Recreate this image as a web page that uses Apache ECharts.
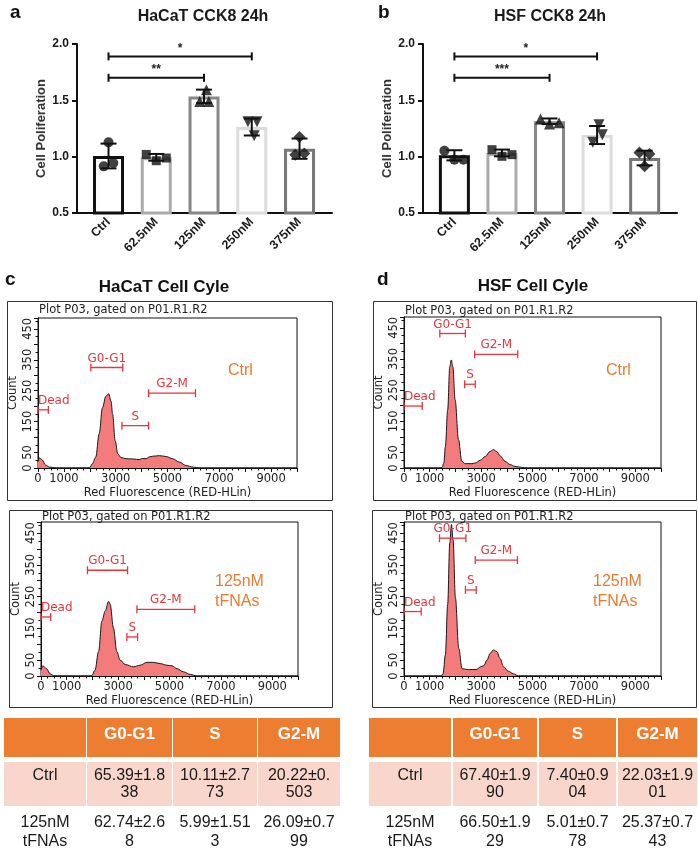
<!DOCTYPE html>
<html><head><meta charset="utf-8">
<script src="https://cdn.jsdelivr.net/npm/echarts@6/dist/echarts.min.js"></script>
<style>html,body{margin:0;padding:0;background:#fff}#c{width:698px;height:850px}</style>
</head><body><div id="c"></div>
<script>
// ---------------- DATA ----------------
const barCategories = ['Ctrl', '62.5nM', '125nM', '250nM', '375nM'];

const hacatMean = [1.006, 0.994, 1.535, 1.263, 1.071];
const hacatSD = [0.11, 0.03, 0.06, 0.075, 0.09];
const hacatReplicates = [[1.127, 0.914, 0.944], [0.964, 1.02, 0.988], [1.595, 1.49, 1.49], [1.186, 1.31, 1.31], [1.175, 1.018, 1.027]];
const hacatJitter = [[0, -0.1, 0.1], [0, -0.21, 0.21], [0.05, -0.09, 0.1], [0.05, -0.08, 0.11], [0, -0.09, 0.1]];
const hacatSigFrom = [0, 0];
const hacatSigTo = [2, 3];
const hacatSigY = [1.70, 1.89];
const hacatSigText = ['**', '*'];

const hsfMean = [1.012, 1.033, 1.314, 1.192, 0.988];
const hsfSD = [0.045, 0.03, 0.025, 0.08, 0.065];
const hsfReplicates = [[1.053, 0.973, 0.973], [1.062, 1.003, 1.018], [1.334, 1.29, 1.30], [1.284, 1.195, 1.127], [1.038, 1.024, 0.914]];
const hsfJitter = [[-0.21, 0, 0.19], [-0.21, 0, 0.21], [-0.19, 0, 0.2], [0.04, 0.11, -0.09], [-0.11, 0.1, 0]];
const hsfSigFrom = [0, 0];
const hsfSigTo = [2, 3];
const hsfSigY = [1.70, 1.89];
const hsfSigText = ['***', '*'];

const flowXTickLabels = [0, 1000, 3000, 5000, 7000, 9000];
const flowYTickLabels = [0, 50, 150, 250, 350, 450];
const gateNames = ['Dead', 'G0-G1', 'S', 'G2-M'];

const hacatCtrlHist = [[0,20],[60,33],[150,27],[300,9],[450,3],[700,0],[1900,0],[2000,2],[2100,14],[2230,35],[2360,110],[2490,195],[2620,232],[2730,240],[2820,216],[2880,174],[2980,88],[3080,46],[3200,34],[3400,30],[3700,29],[3910,27],[4040,31],[4170,30],[4300,36],[4430,38],[4690,40],[4950,37],[5200,30],[5460,19],[5720,8],[5980,3],[6240,0],[10000,0]];
const hacatTfnaHist = [[0,18],[65,32],[220,23],[350,7],[500,1],[700,0],[1900,0],[1980,2],[2100,18],[2240,77],[2370,173],[2500,205],[2630,235],[2690,226],[2820,151],[2950,77],[3080,50],[3280,36],[3600,29],[3860,34],[4120,43],[4380,43],[4640,39],[4900,34],[5100,32],[5290,23],[5550,13],[5810,5],[6070,0],[10000,0]];
const hsfCtrlHist = [[0,0],[1400,0],[1480,2],[1550,16],[1610,69],[1700,187],[1780,325],[1840,347],[1900,325],[1990,219],[2120,91],[2250,21],[2380,14],[2640,14],[2770,16],[2970,25],[3160,37],[3350,53],[3480,59],[3610,53],[3740,39],[3940,21],[4130,11],[4320,5],[4580,2],[4800,0],[10000,0]];
const hsfTfnaHist = [[0,0],[1450,0],[1520,7],[1610,66],[1700,226],[1780,418],[1845,477],[1910,429],[2000,247],[2130,87],[2260,23],[2520,20],[2840,21],[2970,29],[3100,32],[3230,50],[3350,71],[3480,82],[3610,77],[3740,55],[3870,29],[4060,15],[4260,7],[4450,0],[10000,0]];

const hacatCtrlGates = [[0,400,188],[2040,3270,325],[3240,4270,137],[4270,6080,242]];
const hacatTfnaGates = [[0,377,186],[1808,3368,333],[3342,3758,123],[3732,5982,210]];
const hsfCtrlGates = [[0,710,199],[1394,2387,432],[2361,2774,269],[2748,4426,365]];
const hsfTfnaGates = [[0,670,203],[1380,2410,434],[2390,2810,271],[2774,4413,365]];

const phaseHeaders = ['G0-G1', 'S', 'G2-M'];
const groupLabels = ['Ctrl', '125nM\ntFNAs'];
const hacatCycle = [['65.39±1.8\n38', '10.11±2.7\n73', '20.22±0.\n503'], ['62.74±2.6\n8', '5.99±1.51\n3', '26.09±0.7\n99']];
const hsfCycle = [['67.40±1.9\n90', '7.40±0.9\n04', '22.03±1.9\n01'], ['66.50±1.9\n29', '5.01±0.7\n78', '25.37±0.7\n43']];

// ---------------- STYLE ----------------
const SANS = "'Liberation Sans', Arial, sans-serif";
const FLOW = "'DejaVu Sans', Verdana, sans-serif";
const barBorders = ['#111111', '#ababab', '#878787', '#dcdcdc', '#787878'];
const markerShapes = ['circle', 'rect', 'triangle', 'triangle', 'diamond'];
const markerRot = [0, 0, 0, 180, 0];
const markerSize = [10, 9, 11, 11, 12];
const GATE_RED = '#e8353b';
const ORANGE = '#e87b2f';

const chart = echarts.init(document.getElementById('c'), null, {renderer: 'canvas'});

const grids = [
  {left: 77, top: 44, width: 255, height: 169},
  {left: 423, top: 44, width: 254, height: 169},
  {left: 38, top: 318, width: 259, height: 150, show: true, borderColor: '#111', borderWidth: 1, backgroundColor: 'transparent'},
  {left: 41, top: 522, width: 257, height: 154, show: true, borderColor: '#111', borderWidth: 1, backgroundColor: 'transparent'},
  {left: 404, top: 317, width: 257, height: 151, show: true, borderColor: '#111', borderWidth: 1, backgroundColor: 'transparent'},
  {left: 404, top: 522, width: 257, height: 154, show: true, borderColor: '#111', borderWidth: 1, backgroundColor: 'transparent'}
];

const xAxes = [], yAxes = [], series = [];

function barPanel(gi, means, sds, reps, jitter, sFrom, sTo, sY, sText, nameGap) {
  xAxes.push({
    gridIndex: gi, type: 'value', min: -0.66, max: 4.68, position: 'bottom',
    axisLine: {show: true, onZero: false, lineStyle: {color: '#111', width: 2}},
    axisTick: {show: false}, splitLine: {show: false},
    axisLabel: {customValues: [0, 1, 2, 3, 4], formatter: v => barCategories[Math.round(v)] || '',
      rotate: 45, margin: 7, fontFamily: SANS, fontWeight: 'bold', fontSize: 12.5, color: '#1a1a1a'}
  });
  yAxes.push({
    gridIndex: gi, type: 'value', min: 0.5, max: 2.0, interval: 0.5, position: 'left',
    name: 'Cell Poliferation', nameLocation: 'middle', nameGap: nameGap,
    nameTextStyle: {fontFamily: SANS, fontWeight: 'bold', fontSize: 13, color: '#333'},
    axisLine: {show: true, onZero: false, lineStyle: {color: '#111', width: 2}},
    axisTick: {show: true, length: 5, lineStyle: {color: '#111', width: 2}},
    splitLine: {show: false},
    axisLabel: {formatter: v => v.toFixed(1), margin: 8, fontFamily: SANS, fontWeight: 'bold', fontSize: 12, color: '#1a1a1a'}
  });
  const ai = xAxes.length - 1;
  series.push({
    type: 'bar', xAxisIndex: ai, yAxisIndex: ai, barWidth: 31, z: 2,
    data: means.map((m, i) => ({value: [i, m], itemStyle: {color: '#fff', borderColor: barBorders[i], borderWidth: 3}})),
    itemStyle: {color: '#fff', borderWidth: 3}
  });
  series.push({
    type: 'custom', xAxisIndex: ai, yAxisIndex: ai, z: 4,
    data: means.map((m, i) => [i, m, sds[i]]),
    encode: {x: 0, y: 1},
    renderItem: (params, api) => {
      const x = api.value(0), m = api.value(1), s = api.value(2);
      const top = api.coord([x, m + s]), bot = api.coord([x, m - s]);
      const st = {stroke: '#111', lineWidth: 2};
      return {type: 'group', children: [
        {type: 'line', shape: {x1: top[0], y1: top[1], x2: bot[0], y2: bot[1]}, style: st},
        {type: 'line', shape: {x1: top[0] - 8, y1: top[1], x2: top[0] + 8, y2: top[1]}, style: st},
        {type: 'line', shape: {x1: bot[0] - 8, y1: bot[1], x2: bot[0] + 8, y2: bot[1]}, style: st}
      ]};
    }
  });
  reps.forEach((vals, i) => {
    series.push({
      type: 'scatter', xAxisIndex: ai, yAxisIndex: ai, z: 5,
      symbol: markerShapes[i], symbolRotate: markerRot[i], symbolSize: markerSize[i],
      itemStyle: {color: '#111'},
      data: vals.map((v, k) => [i + jitter[i][k], v])
    });
  });
  series.push({
    type: 'custom', xAxisIndex: ai, yAxisIndex: ai, z: 5,
    data: sFrom.map((f, k) => [f, sTo[k], sY[k]]),
    encode: {x: [0, 1], y: 2},
    renderItem: (params, api) => {
      const a = api.coord([api.value(0), api.value(2)]), b = api.coord([api.value(1), api.value(2)]);
      const st = {stroke: '#111', lineWidth: 2};
      return {type: 'group', children: [
        {type: 'line', shape: {x1: a[0], y1: a[1], x2: b[0], y2: b[1]}, style: st},
        {type: 'line', shape: {x1: a[0], y1: a[1] - 4, x2: a[0], y2: a[1] + 4}, style: st},
        {type: 'line', shape: {x1: b[0], y1: b[1] - 4, x2: b[0], y2: b[1] + 4}, style: st},
        {type: 'text', style: {text: sText[params.dataIndex], x: (a[0] + b[0]) / 2, y: a[1] - 2,
          textAlign: 'center', textVerticalAlign: 'bottom', font: 'bold 12px ' + SANS, fill: '#222'}}
      ]};
    }
  });
}

function flowPanel(gi, hist, gates) {
  xAxes.push({
    gridIndex: gi, type: 'value', min: 0, max: 10000, interval: 1000,
    name: 'Red Fluorescence (RED-HLin)', nameLocation: 'middle', nameGap: 19,
    nameTextStyle: {fontFamily: FLOW, fontSize: 11.5, color: '#222'},
    axisLine: {show: true, onZero: false, lineStyle: {color: '#111', width: 1}},
    axisTick: {show: true, length: 4, lineStyle: {color: '#111'}},
    minorTick: {show: true, splitNumber: 4, length: 2.5, lineStyle: {color: '#111'}},
    splitLine: {show: false},
    axisLabel: {margin: 5, fontFamily: FLOW, fontSize: 11.5, color: '#222',
      formatter: v => flowXTickLabels.indexOf(v) >= 0 ? String(v) : ''}
  });
  yAxes.push({
    gridIndex: gi, type: 'value', min: 0, max: 485, interval: 50,
    name: 'Count', nameLocation: 'middle', nameGap: 19,
    nameTextStyle: {fontFamily: FLOW, fontSize: 11.5, color: '#222'},
    axisLine: {show: true, onZero: false, lineStyle: {color: '#111', width: 1}},
    axisTick: {show: true, length: 4, lineStyle: {color: '#111'}},
    minorTick: {show: true, splitNumber: 2, length: 2.5, lineStyle: {color: '#111'}},
    splitLine: {show: false},
    axisLabel: {rotate: 90, margin: 4, fontFamily: FLOW, fontSize: 11.5, color: '#222',
      formatter: v => flowYTickLabels.indexOf(v) >= 0 ? String(v) : ''}
  });
  const ai = xAxes.length - 1;
  series.push({
    type: 'line', xAxisIndex: ai, yAxisIndex: ai, smooth: 0.35, smoothMonotone: 'x', showSymbol: false, z: 2,
    lineStyle: {color: '#1a1a1a', width: 1},
    areaStyle: {color: '#f47b7b', opacity: 1},
    data: hist
  });
  series.push({
    type: 'custom', xAxisIndex: ai, yAxisIndex: ai, z: 4,
    data: gates,
    encode: {x: [0, 1], y: 2},
    renderItem: (params, api) => {
      const a = api.coord([api.value(0), api.value(2)]), b = api.coord([api.value(1), api.value(2)]);
      const st = {stroke: GATE_RED, lineWidth: 1.3};
      const isDead = params.dataIndex === 0;
      return {type: 'group', children: [
        {type: 'line', shape: {x1: a[0], y1: a[1], x2: b[0], y2: b[1]}, style: st},
        {type: 'line', shape: {x1: a[0], y1: a[1] - 4, x2: a[0], y2: a[1] + 4}, style: st},
        {type: 'line', shape: {x1: b[0], y1: b[1] - 4, x2: b[0], y2: b[1] + 4}, style: st},
        {type: 'text', style: {text: gateNames[params.dataIndex], x: isDead ? a[0] : (a[0] + b[0]) / 2, y: a[1] - 3,
          textAlign: isDead ? 'left' : 'center', textVerticalAlign: 'bottom', font: '12px ' + FLOW, fill: GATE_RED}}
      ]};
    }
  });
}

barPanel(0, hacatMean, hacatSD, hacatReplicates, hacatJitter, hacatSigFrom, hacatSigTo, hacatSigY, hacatSigText, 28);
barPanel(1, hsfMean, hsfSD, hsfReplicates, hsfJitter, hsfSigFrom, hsfSigTo, hsfSigY, hsfSigText, 24);
flowPanel(2, hacatCtrlHist, hacatCtrlGates);
flowPanel(3, hacatTfnaHist, hacatTfnaGates);
flowPanel(4, hsfCtrlHist, hsfCtrlGates);
flowPanel(5, hsfTfnaHist, hsfTfnaGates);

// ---------------- GRAPHICS (titles, frames, tables) ----------------
const g = [];
function txt(text, x, y, font, fill, align, valign, lh) {
  g.push({type: 'text', x: x, y: y, z: 10, style: {text: text, font: font, fill: fill || '#222',
    textAlign: align || 'left', textVerticalAlign: valign || 'middle', lineHeight: lh}});
}
// panel letters & titles
txt('a', 10, 13, 'bold 19px ' + SANS, '#111');
txt('b', 378, 13, 'bold 19px ' + SANS, '#111');
txt('c', 5, 280, 'bold 19px ' + SANS, '#111');
txt('d', 377, 280, 'bold 19px ' + SANS, '#111');
txt('HaCaT CCK8 24h', 203, 17, 'bold 16px ' + SANS, '#1a1a1a', 'center');
txt('HSF CCK8 24h', 550, 17, 'bold 16px ' + SANS, '#1a1a1a', 'center');
txt('HaCaT Cell Cyle', 164, 287, 'bold 17px ' + SANS, '#111', 'center');
txt('HSF Cell Cyle', 533, 286, 'bold 17px ' + SANS, '#111', 'center');

// flow frames
[[7, 301, 325, 199], [9, 510, 323, 197], [373, 301, 323, 199], [372, 510, 324, 197]].forEach(r => {
  g.push({type: 'rect', z: 1, shape: {x: r[0] + 0.5, y: r[1] + 0.5, width: r[2], height: r[3]},
    style: {fill: 'none', stroke: '#333', lineWidth: 1}});
});
[[39, 310], [42, 517], [405, 311], [405, 517]].forEach(p => txt('Plot P03, gated on P01.R1.R2', p[0], p[1], '11.5px ' + FLOW, '#222'));
txt('Ctrl', 228, 371, '16px ' + SANS, ORANGE);
txt('125nM\ntFNAs', 215, 592, '16px ' + SANS, ORANGE, 'left', 'middle', 20);
txt('Ctrl', 606, 371, '16px ' + SANS, ORANGE);
txt('125nM\ntFNAs', 593, 592, '16px ' + SANS, ORANGE, 'left', 'middle', 20);

// tables
function table(colX, colW, cells) {
  const rows = [{y: 718, h: 39, fill: '#ed7d31'}, {y: 762, h: 44, fill: '#f8d6cb'}, {y: 813, h: 37, fill: '#ffffff'}];
  rows.forEach(r => colX.forEach((x, c) => {
    g.push({type: 'rect', z: 1, shape: {x: x, y: r.y, width: colW[c], height: r.h}, style: {fill: r.fill}});
  }));
  phaseHeaders.forEach((h, c) => txt(h, colX[c + 1] + colW[c + 1] / 2, 734, 'bold 17px ' + SANS, '#fff', 'center'));
  groupLabels.forEach((lab, r) => {
    const top = r === 0 ? 767.5 : 813.5;
    const lh = r === 0 ? 17 : 19;
    txt(lab, colX[0] + colW[0] / 2, top, '16px ' + SANS, '#1a1a1a', 'center', 'top', lh);
    cells[r].forEach((v, c) => txt(v, colX[c + 1] + colW[c + 1] / 2, top, '16px ' + SANS, '#1a1a1a', 'center', 'top', lh));
  });
}
table([4, 87, 173, 258], [82, 85, 84, 82], hacatCycle);
table([369, 453, 539, 618], [82, 84, 77, 79], hsfCycle);

chart.setOption({
  animation: false,
  backgroundColor: '#fff',
  grid: grids,
  xAxis: xAxes,
  yAxis: yAxes,
  series: series,
  graphic: g
});
</script></body></html>
